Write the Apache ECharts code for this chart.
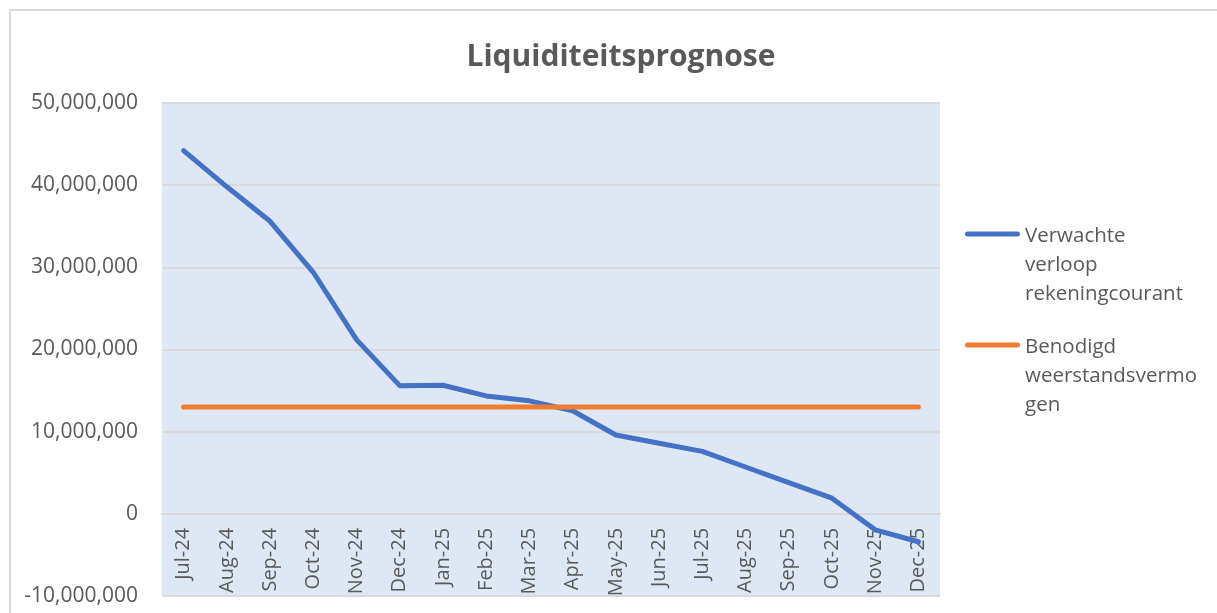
<!DOCTYPE html>
<html>
<head>
<meta charset="utf-8">
<title>Liquiditeitsprognose</title>
<script src="https://cdn.jsdelivr.net/npm/echarts@6/dist/echarts.min.js"></script>
<style>
	html, body { margin: 0; padding: 0; background: #fff; }
	#chart { width: 1217px; height: 613px; }
</style>
</head>
<body>
<div id="chart"></div>
<script>
	// maanden
	var maanden = ['Jul-24','Aug-24','Sep-24','Oct-24','Nov-24','Dec-24','Jan-25','Feb-25','Mar-25',
		'Apr-25','May-25','Jun-25','Jul-25','Aug-25','Sep-25','Oct-25','Nov-25','Dec-25'];
	// verwachte verloop rekeningcourant
	var verloop = [44200000, 39800000, 35600000, 29400000, 21200000, 15600000, 15650000, 14350000, 13750000,
		12550000, 9600000, 8600000, 7600000, 5700000, 3800000, 1900000, -1950000, -3400000];
	// benodigd weerstandsvermogen
	var weerstand = [13000000, 13000000, 13000000, 13000000, 13000000, 13000000, 13000000, 13000000, 13000000,
		13000000, 13000000, 13000000, 13000000, 13000000, 13000000, 13000000, 13000000, 13000000];
	var reeksNamen = ['Verwachte verloop rekeningcourant', 'Benodigd weerstandsvermogen'];
	var legendaTekst = {
		'Verwachte verloop rekeningcourant': 'Verwachte\nverloop\nrekeningcourant',
		'Benodigd weerstandsvermogen': 'Benodigd\nweerstandsvermo\ngen'
	};
	var yTicks = [-10000000, 50000000, 10000000]; // min, max, interval

	var grijs = '#595959';
	var font = '"Open Sans", sans-serif';

	// plotgebied
	var gridTop = 103, gridBottom = 17;
	var plotHoogte = 613 - gridTop - gridBottom;
	// categorie-as op de nullijn (onZero werkt hier niet, dus via offset)
	var asOffset = -plotHoogte * (0 - yTicks[0]) / (yTicks[1] - yTicks[0]);

	// lijnstukje bovenaan het legenda-icoon, zodat het bij de eerste tekstregel staat
	var legendIcoon = 'path://M0,0L0,0.01M0,87L0,86.99' +
		'M5.5,10L55.5,10A2.5,2.5 0 0 1 55.5,15L5.5,15A2.5,2.5 0 0 1 5.5,10Z';

	var myChart = echarts.init(document.getElementById('chart'));

	var option = {
		backgroundColor: '#fff',
		animation: false,
		title: {
			text: 'Liquiditeitsprognose',
			left: 616,
			textAlign: 'center',
			top: 37,
			textStyle: { color: grijs, fontFamily: font, fontSize: 30, fontWeight: 'bold' }
		},
		graphic: [{
			type: 'rect',
			shape: { x: 10, y: 10, width: 1240, height: 640 },
			style: { fill: 'none', stroke: '#D9D9D9', lineWidth: 2 },
			silent: true
		}],
		legend: {
			data: reeksNamen,
			left: 962,
			top: 221.5,
			padding: 0,
			orient: 'vertical',
			icon: legendIcoon,
			itemWidth: 58,
			itemHeight: 87,
			itemGap: 24,
			itemStyle: { borderWidth: 0 },
			formatter: function (name) { return legendaTekst[name]; },
			textStyle: {
				color: grijs,
				fontFamily: font,
				fontSize: 20.5,
				lineHeight: 29
			}
		},
		grid: {
			left: 162,
			right: 277,
			top: gridTop,
			bottom: gridBottom,
			containLabel: false,
			outerBoundsMode: 'none',
			show: true,
			backgroundColor: '#DEE8F4',
			borderWidth: 0
		},
		xAxis: {
			type: 'category',
			data: maanden,
			boundaryGap: true,
			offset: asOffset,
			axisLine: { onZero: false, lineStyle: { color: '#D9D9D9', width: 2 } },
			axisTick: { show: false },
			axisLabel: {
				rotate: 90,
				margin: 14,
				interval: 0,
				color: grijs,
				fontFamily: font,
				fontSize: 20
			}
		},
		yAxis: {
			type: 'value',
			min: yTicks[0],
			max: yTicks[1],
			interval: yTicks[2],
			axisLine: { show: false },
			axisTick: { show: false },
			splitLine: { lineStyle: { color: '#D9D9D9', width: 2 } },
			axisLabel: {
				margin: 24,
				color: grijs,
				fontFamily: font,
				fontSize: 21,
				formatter: function (v) { return v.toLocaleString('en-US'); }
			}
		},
		series: [
			{
				name: reeksNamen[0],
				type: 'line',
				data: verloop,
				symbol: 'none',
				color: '#4472C4',
				lineStyle: { width: 5, cap: 'round', join: 'round' },
				z: 3
			},
			{
				name: reeksNamen[1],
				type: 'line',
				data: weerstand,
				symbol: 'none',
				color: '#ED7D31',
				lineStyle: { width: 5, cap: 'round', join: 'round' },
				z: 4
			}
		]
	};

	myChart.setOption(option);
</script>
</body>
</html>
